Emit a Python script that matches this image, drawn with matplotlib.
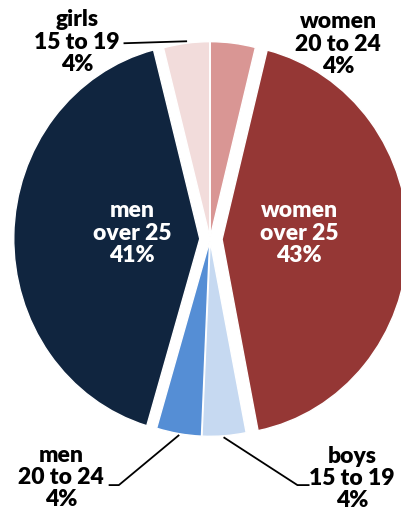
import numpy as np
import matplotlib
matplotlib.use("Agg")
import matplotlib.pyplot as plt

plt.rcParams["font.family"] = ["Lato", "DejaVu Sans"]

# clockwise from 12 o'clock
groups = ["women\n20 to 24", "women\nover 25", "boys\n15 to 19",
          "men\n20 to 24", "men\nover 25", "girls\n15 to 19"]
shares = [3.9, 43.0, 3.8, 3.9, 41.4, 4.0]
colors = ["#D99694", "#953735", "#C6D9F1", "#558ED5", "#10253F", "#F2DCDB"]
explode = [0.012, 0.065, 0.012, 0.012, 0.055, 0.012]

# label placement (data units, pie radius = 1)
label_pos = [(0.69, 1.0), (0.48, 0.03), (0.765, -1.228),
             (-0.80, -1.222), (-0.42, 0.03), (-0.715, 1.01)]
inside = [False, True, False, False, True, False]

fig = plt.figure(figsize=(4.01, 5.11), dpi=100)
ax = fig.add_axes([0, 0, 1, 1])

wedges, _ = ax.pie(shares, colors=colors, explode=explode, startangle=90,
                   counterclock=False,
                   wedgeprops=dict(edgecolor="white", linewidth=1))
ax.set_aspect("auto")
ax.set_xlim(-210 / 186, 191 / 186)
ax.set_ylim(-272 / 195, 239 / 195)
ax.axis("off")

for w, g, s, (lx, ly), ins in zip(wedges, groups, shares, label_pos, inside):
    txt = f"{g}\n{s:.0f}%"
    ax.text(lx, ly, txt, ha="center", va="center", fontsize=16.5,
            fontweight="heavy", linespacing=1.07,
            color="white" if ins else "black")

# leader lines from wedge rim to labels
def rim(w, r=1.01):
    a = np.deg2rad((w.theta1 + w.theta2) / 2)
    return w.center[0] + r * np.cos(a), w.center[1] + r * np.sin(a)

# girls
x0, y0 = rim(wedges[5])
ax.plot([x0, -0.46], [y0, y0 - 0.01], color="black", lw=1.3)
# men 20 to 24
x0, y0 = rim(wedges[3])
ax.plot([x0, -0.49, -0.54], [y0, -1.262, -1.262], color="black", lw=1.3)
# boys
x0, y0 = rim(wedges[2])
ax.plot([x0, 0.47, 0.53], [y0, -1.262, -1.262], color="black", lw=1.3)

fig.savefig("out.png", dpi=100)
